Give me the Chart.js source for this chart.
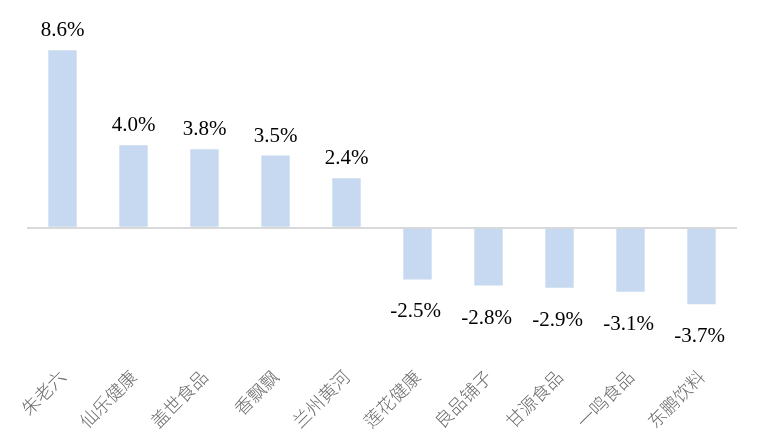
<!DOCTYPE html>
<html>
<head>
<meta charset="utf-8">
<script src="https://cdn.jsdelivr.net/npm/chart.js@4/dist/chart.umd.min.js"></script>
<style>
  html, body { margin: 0; padding: 0; background: #fff; }
  #wrap { width: 758px; height: 443px; }
</style>
</head>
<body>
<div id="wrap"><canvas id="barChart"></canvas></div>
<script>
const categories = ["朱老六", "仙乐健康", "盖世食品", "香飘飘", "兰州黄河", "莲花健康", "良品铺子", "甘源食品", "一鸣食品", "东鹏饮料"];
const changes = [8.6, 4.0, 3.8, 3.5, 2.4, -2.5, -2.8, -2.9, -3.1, -3.7];

// value labels above / below each bar
const valueLabels = {
  id: "valueLabels",
  afterDatasetsDraw(chart) {
    const ctx = chart.ctx;
    const meta = chart.getDatasetMeta(0);
    ctx.save();
    ctx.font = "21px 'Liberation Serif', 'Times New Roman', serif";
    ctx.fillStyle = "#000";
    ctx.textAlign = "center";
    ctx.textBaseline = "alphabetic";
    meta.data.forEach((bar, i) => {
      const v = changes[i];
      const txt = v.toFixed(1) + "%";
      if (v >= 0) {
        ctx.fillText(txt, bar.x, bar.y - 14);
      } else {
        ctx.fillText(txt, bar.x - 2, bar.y + 38);
      }
    });
    ctx.restore();
  }
};

new Chart(document.getElementById("barChart"), {
  type: "bar",
  data: {
    labels: categories,
    datasets: [{
      data: changes,
      backgroundColor: "#C6D9F0",
      borderWidth: 0,
      barPercentage: 0.4,
      categoryPercentage: 1.0
    }]
  },
  options: {
    responsive: true,
    maintainAspectRatio: false,
    animation: false,
    layout: { padding: { left: 27, right: 21, top: 42, bottom: 9 } },
    plugins: {
      legend: { display: false },
      tooltip: { enabled: false }
    },
    scales: {
      x: {
        grid: { display: false },
        border: { display: false },
        ticks: {
          minRotation: 45,
          maxRotation: 45,
          padding: 2,
          color: "#6b6b6b",
          font: { family: "'Noto Sans CJK SC'", size: 18, weight: "300" }
        }
      },
      y: {
        min: -6.2,
        max: 9,
        ticks: { display: false, stepSize: 1 },
        border: { display: false },
        grid: {
          drawTicks: false,
          lineWidth: 2,
          color: (c) => (c.tick && c.tick.value === 0 ? "#D9D9D9" : "rgba(0,0,0,0)")
        }
      }
    }
  },
  plugins: [valueLabels]
});
</script>
</body>
</html>
